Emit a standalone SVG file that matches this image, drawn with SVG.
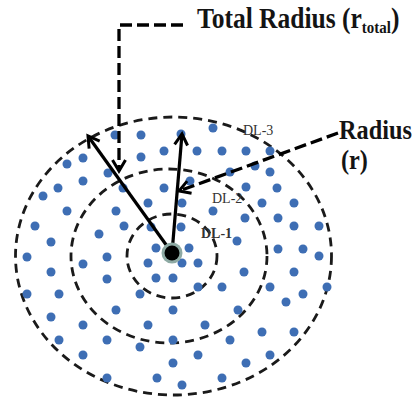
<svg xmlns="http://www.w3.org/2000/svg" width="413" height="403" viewBox="0 0 413 403">
<defs>
<style>
.ring{fill:none;stroke:#1a1a1a;stroke-width:2.8;stroke-dasharray:9 6}
.d{fill:#3e6eb4}
.solid{fill:none;stroke:#000;stroke-width:3.2}
.dash{fill:none;stroke:#000;stroke-width:3.3;stroke-dasharray:12 5}
.big{font-family:"Liberation Serif","Times New Roman",serif;font-weight:bold;fill:#141414}
.dl{font-family:"Liberation Serif","Times New Roman",serif;font-size:14px;fill:#333}
</style>
<marker id="arr" markerUnits="userSpaceOnUse" markerWidth="18" markerHeight="18" viewBox="-14 -9 18 18" refX="0" refY="0" orient="auto">
<path d="M-11,-6.5 L0,0 L-11,6.5" fill="none" stroke="#000" stroke-width="3" stroke-dasharray="none"/>
</marker>
</defs>
<rect width="413" height="403" fill="#fff"/>
<g id="zones">
<ellipse class="ring" cx="173.5" cy="256" rx="158" ry="139"/>
<ellipse class="ring" cx="169" cy="256" rx="98" ry="87"/>
<ellipse class="ring" cx="172" cy="256" rx="45" ry="42"/>
</g>
<g id="dots">
<circle class="d" cx="213" cy="128" r="4.5"/><circle class="d" cx="115" cy="135" r="4.5"/><circle class="d" cx="141" cy="135" r="4.5"/><circle class="d" cx="181" cy="134" r="4.5"/>
<circle class="d" cx="67" cy="164" r="4.5"/><circle class="d" cx="83" cy="158" r="4.5"/><circle class="d" cx="141" cy="157" r="4.5"/><circle class="d" cx="164" cy="151" r="4.5"/><circle class="d" cx="197" cy="151" r="4.5"/><circle class="d" cx="222" cy="151" r="4.5"/><circle class="d" cx="246" cy="151" r="4.5"/><circle class="d" cx="270" cy="151" r="4.5"/>
<circle class="d" cx="255" cy="166" r="4.5"/>
<circle class="d" cx="108" cy="173" r="4.5"/><circle class="d" cx="230" cy="172" r="4.5"/><circle class="d" cx="270" cy="172" r="4.5"/>
<circle class="d" cx="83" cy="181" r="4.5"/><circle class="d" cx="58" cy="188" r="4.5"/><circle class="d" cx="123" cy="188" r="4.5"/><circle class="d" cx="164" cy="188" r="4.5"/><circle class="d" cx="190" cy="181" r="4.5"/><circle class="d" cx="246" cy="187" r="4.5"/><circle class="d" cx="277" cy="188" r="4.5"/>
<circle class="d" cx="43" cy="196" r="4.5"/>
<circle class="d" cx="148" cy="203" r="4.5"/><circle class="d" cx="182" cy="203" r="4.5"/><circle class="d" cx="262" cy="203" r="4.5"/><circle class="d" cx="294" cy="203" r="4.5"/>
<circle class="d" cx="67" cy="211" r="4.5"/><circle class="d" cx="116" cy="211" r="4.5"/><circle class="d" cx="213" cy="211" r="4.5"/>
<circle class="d" cx="245" cy="218" r="4.5"/><circle class="d" cx="278" cy="218" r="4.5"/>
<circle class="d" cx="35" cy="226" r="4.5"/><circle class="d" cx="124" cy="226" r="4.5"/><circle class="d" cx="151" cy="227" r="4.5"/><circle class="d" cx="181" cy="227" r="4.5"/><circle class="d" cx="294" cy="226" r="4.5"/><circle class="d" cx="319" cy="226" r="4.5"/>
<circle class="d" cx="99" cy="234" r="4.5"/>
<circle class="d" cx="51" cy="242" r="4.5"/><circle class="d" cx="237" cy="241" r="4.5"/>
<circle class="d" cx="156" cy="248" r="4.5"/><circle class="d" cx="189" cy="248" r="4.5"/><circle class="d" cx="278" cy="249" r="4.5"/><circle class="d" cx="303" cy="249" r="4.5"/>
<circle class="d" cx="27" cy="257" r="4.5"/><circle class="d" cx="107" cy="257" r="4.5"/><circle class="d" cx="319" cy="256" r="4.5"/>
<circle class="d" cx="83" cy="264" r="4.5"/><circle class="d" cx="148" cy="263" r="4.5"/><circle class="d" cx="182" cy="263" r="4.5"/><circle class="d" cx="198" cy="263" r="4.5"/>
<circle class="d" cx="51" cy="272" r="4.5"/><circle class="d" cx="244" cy="272" r="4.5"/><circle class="d" cx="294" cy="272" r="4.5"/>
<circle class="d" cx="107" cy="279" r="4.5"/><circle class="d" cx="156" cy="278" r="4.5"/><circle class="d" cx="173" cy="278" r="4.5"/>
<circle class="d" cx="198" cy="287" r="4.5"/><circle class="d" cx="222" cy="287" r="4.5"/><circle class="d" cx="270" cy="287" r="4.5"/><circle class="d" cx="327" cy="287" r="4.5"/>
<circle class="d" cx="27" cy="294" r="4.5"/><circle class="d" cx="59" cy="294" r="4.5"/><circle class="d" cx="140" cy="294" r="4.5"/><circle class="d" cx="303" cy="294" r="4.5"/>
<circle class="d" cx="286" cy="302" r="4.5"/>
<circle class="d" cx="116" cy="310" r="4.5"/><circle class="d" cx="173" cy="310" r="4.5"/><circle class="d" cx="238" cy="310" r="4.5"/>
<circle class="d" cx="51" cy="317" r="4.5"/>
<circle class="d" cx="83" cy="325" r="4.5"/><circle class="d" cx="148" cy="325" r="4.5"/><circle class="d" cx="205" cy="325" r="4.5"/>
<circle class="d" cx="262" cy="332" r="4.5"/><circle class="d" cx="294" cy="332" r="4.5"/>
<circle class="d" cx="59" cy="340" r="4.5"/><circle class="d" cx="107" cy="340" r="4.5"/><circle class="d" cx="173" cy="340" r="4.5"/><circle class="d" cx="230" cy="340" r="4.5"/>
<circle class="d" cx="140" cy="347" r="4.5"/>
<circle class="d" cx="83" cy="355" r="4.5"/><circle class="d" cx="198" cy="355" r="4.5"/><circle class="d" cx="270" cy="355" r="4.5"/>
<circle class="d" cx="173" cy="363" r="4.5"/><circle class="d" cx="246" cy="363" r="4.5"/>
<circle class="d" cx="107" cy="378" r="4.5"/><circle class="d" cx="157" cy="378" r="4.5"/><circle class="d" cx="222" cy="378" r="4.5"/>
<circle class="d" cx="182" cy="385" r="4.5"/>
</g>
<g id="labels-dl">
<text class="dl" x="243" y="135">DL-3</text>
<text class="dl" x="212" y="203">DL-2</text>
<text class="dl" x="201" y="238" font-weight="bold">DL-1</text>
</g>
<g id="connectors">
<path class="solid" d="M172,253 L88,136" marker-end="url(#arr)"/>
<path class="solid" d="M172,253 L182,134" marker-end="url(#arr)"/>
<path class="dash" d="M183,25 H119 V171" marker-end="url(#arr)"/>
<path class="dash" d="M338,133 L179,191" marker-end="url(#arr)"/>
</g>
<g id="center">
<circle cx="172" cy="253" r="10.5" fill="#8eaaa4"/>
<circle cx="172" cy="253" r="7.5" fill="#000"/>
</g>
<g id="title">
<text class="big" transform="translate(197,28) scale(0.88,1)" font-size="29">Total Radius (r<tspan font-size="17" dy="5">total</tspan><tspan dy="-5">)</tspan></text>
</g>
<g id="radius-label">
<text class="big" transform="translate(339,139) scale(0.9,1)" font-size="27">Radius</text>
<text class="big" transform="translate(341,169) scale(0.9,1)" font-size="27">(r)</text>
</g>
</svg>
